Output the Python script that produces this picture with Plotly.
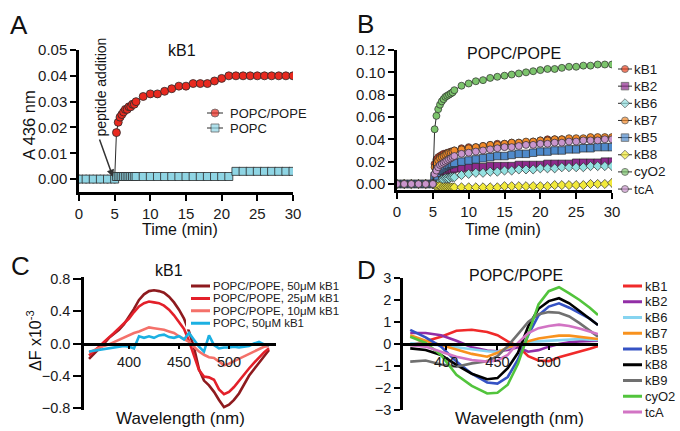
import plotly.graph_objects as go

# ------------------------------------------------------------------ data
time_min = [0, 1, 2, 3, 4, 5,
            5.25, 5.5, 5.75, 6, 6.25, 6.5, 6.75, 7, 7.25, 7.5, 7.75, 8,
            9, 10, 11, 12, 13, 14, 15, 16, 17, 18, 19, 20,
            21, 22, 23, 24, 25, 26, 27, 28, 29, 30]

# Panel A (kB1)
a_popc_pope = [0, 0, 0, 0, 0, 0,
               0.018, 0.022, 0.024, 0.025, 0.026, 0.027, 0.027, 0.028, 0.028, 0.029, 0.029, 0.030,
               0.032, 0.033, 0.033, 0.034, 0.035, 0.036, 0.036, 0.037, 0.037, 0.037, 0.038, 0.039,
               0.040, 0.040, 0.040, 0.040, 0.040, 0.040, 0.040, 0.040, 0.040, 0.040]
a_popc = [0, 0, 0, 0, 0, 0,
          0.001, 0.001, 0.001, 0.001, 0.001, 0.001, 0.001, 0.001, 0.001, 0.001, 0.001, 0.001,
          0.001, 0.001, 0.001, 0.001, 0.001, 0.001, 0.001, 0.001, 0.001, 0.001, 0.001, 0.001,
          0.001, 0.003, 0.003, 0.003, 0.003, 0.003, 0.003, 0.003, 0.003, 0.003]

# Panel B (POPC/POPE)
b_kB1 = [0, 0, 0, 0, 0, 0,
         0.018, 0.022, 0.024, 0.025, 0.026, 0.027, 0.027, 0.028, 0.028, 0.029, 0.029, 0.030,
         0.032, 0.033, 0.033, 0.034, 0.035, 0.036, 0.036, 0.037, 0.037, 0.037, 0.038, 0.039,
         0.040, 0.040, 0.040, 0.040, 0.040, 0.040, 0.040, 0.041, 0.041, 0.041]
b_kB2 = [0, 0, 0, 0, 0, 0,
         0.005, 0.007, 0.009, 0.010, 0.011, 0.011, 0.012, 0.012, 0.013, 0.013, 0.013, 0.014,
         0.014, 0.015, 0.015, 0.015, 0.016, 0.016, 0.016, 0.016, 0.017, 0.017, 0.017, 0.017,
         0.018, 0.018, 0.018, 0.018, 0.019, 0.019, 0.019, 0.019, 0.020, 0.020]
b_kB6 = [0, 0, 0, 0, 0, 0,
         0.001, 0.002, 0.003, 0.003, 0.004, 0.004, 0.005, 0.005, 0.005, 0.006, 0.006, 0.006,
         0.008, 0.009, 0.010, 0.010, 0.011, 0.011, 0.012, 0.012, 0.013, 0.013, 0.013, 0.014,
         0.014, 0.014, 0.015, 0.015, 0.015, 0.015, 0.016, 0.016, 0.016, 0.016]
b_kB7 = [0, 0, 0, 0, 0, 0,
         0.015, 0.019, 0.021, 0.023, 0.024, 0.025, 0.026, 0.027, 0.028, 0.028, 0.029, 0.030,
         0.031, 0.032, 0.033, 0.034, 0.035, 0.035, 0.036, 0.037, 0.037, 0.038, 0.038, 0.039,
         0.039, 0.040, 0.040, 0.041, 0.041, 0.041, 0.042, 0.042, 0.042, 0.042]
b_kB5 = [0, 0, 0, 0, 0, 0,
         0.007, 0.010, 0.012, 0.013, 0.014, 0.015, 0.016, 0.017, 0.017, 0.018, 0.018, 0.019,
         0.020, 0.021, 0.022, 0.023, 0.024, 0.025, 0.025, 0.026, 0.027, 0.027, 0.028, 0.029,
         0.029, 0.030, 0.030, 0.031, 0.031, 0.032, 0.032, 0.033, 0.033, 0.033]
b_kB8 = [0, 0, 0, 0, 0, 0,
         -0.001, -0.002, -0.002, -0.002, -0.003, -0.003, -0.003, -0.003, -0.003, -0.003, -0.003, -0.003,
         -0.003, -0.003, -0.003, -0.003, -0.003, -0.003, -0.002, -0.002, -0.002, -0.002, -0.002, -0.002,
         -0.002, -0.001, -0.001, -0.001, -0.001, -0.001, 0.000, 0.000, 0.000, 0.001]
b_cyO2 = [0, 0, 0, 0, 0, 0,
          0.049, 0.061, 0.067, 0.071, 0.074, 0.076, 0.078, 0.079, 0.080, 0.081, 0.082, 0.084,
          0.088, 0.090, 0.092, 0.093, 0.095, 0.096, 0.097, 0.098, 0.099, 0.100, 0.101, 0.102,
          0.103, 0.103, 0.104, 0.105, 0.105, 0.106, 0.106, 0.107, 0.107, 0.107]
b_tcA = [0, 0, 0, 0, 0, 0,
         0.009, 0.012, 0.015, 0.017, 0.018, 0.019, 0.020, 0.021, 0.022, 0.023, 0.024, 0.025,
         0.027, 0.028, 0.029, 0.030, 0.031, 0.032, 0.033, 0.033, 0.034, 0.035, 0.035, 0.036,
         0.036, 0.037, 0.037, 0.038, 0.038, 0.039, 0.039, 0.039, 0.040, 0.040]

# Panel C (kB1, fluorescence difference spectra)
wl_C = [360, 365, 370, 375, 380, 385, 390, 395, 400, 405, 410, 415, 420, 425, 430, 435, 440,
        445, 450, 455, 460, 465, 470, 475, 480, 485, 490, 495, 500, 505, 510, 515, 520, 525,
        530, 535, 540]
c_pope_50 = [-0.19, -0.13, -0.06, 0.00, 0.07, 0.12, 0.17, 0.24, 0.33, 0.43, 0.54, 0.61, 0.65,
             0.66, 0.65, 0.63, 0.58, 0.51, 0.42, 0.31, 0.15, -0.05, -0.32, -0.46, -0.52, -0.60,
             -0.70, -0.79, -0.76, -0.70, -0.62, -0.50, -0.40, -0.32, -0.24, -0.15, -0.08]
c_pope_25 = [-0.15, -0.10, -0.04, 0.02, 0.07, 0.13, 0.19, 0.25, 0.31, 0.39, 0.46, 0.50, 0.52,
             0.51, 0.50, 0.47, 0.42, 0.35, 0.27, 0.18, 0.03, -0.15, -0.33, -0.41, -0.42, -0.45,
             -0.57, -0.63, -0.60, -0.54, -0.46, -0.38, -0.31, -0.24, -0.17, -0.11, -0.06]
c_pope_10 = [-0.11, -0.08, -0.05, -0.03, -0.01, 0.02, 0.05, 0.08, 0.10, 0.13, 0.15, 0.18, 0.20,
             0.19, 0.18, 0.17, 0.15, 0.13, 0.09, 0.06, 0.02, -0.04, -0.10, -0.14, -0.17, -0.18,
             -0.22, -0.27, -0.25, -0.22, -0.19, -0.15, -0.12, -0.09, -0.06, -0.04, -0.03]
c_popc_50 = [-0.10, -0.09, -0.08, -0.07, -0.06, -0.05, -0.04, -0.03, -0.04, -0.06, 0.09, 0.07,
             0.09, 0.07, 0.10, 0.11, 0.08, 0.07, 0.09, 0.05, 0.13, 0.04, -0.04, -0.10, 0.10,
             -0.02, -0.06, -0.05, -0.05, -0.04, -0.05, -0.04, -0.03, 0.00, 0.02, -0.01, -0.02]

# Panel D (POPC/POPE, difference spectra)
wl_D = [365, 380, 395, 410, 425, 440, 450, 460, 470, 480, 490, 500, 510, 520, 530, 540, 548]
d_kB1 = [-0.05, 0.12, 0.33, 0.60, 0.65, 0.55, 0.40, 0.12, -0.10, -0.55, -0.75, -0.78, -0.60,
         -0.48, -0.35, -0.22, -0.10]
d_kB2 = [0.50, 0.50, 0.40, 0.15, -0.15, -0.30, -0.33, -0.27, -0.15, -0.35, -0.28, -0.12, 0.00,
         0.08, 0.12, 0.14, 0.15]
d_kB6 = [0.03, 0.00, -0.05, -0.15, -0.25, -0.33, -0.35, -0.20, 0.00, 0.10, 0.12, 0.15, 0.18,
         0.22, 0.23, 0.20, 0.18]
d_kB7 = [0.40, 0.15, -0.05, -0.25, -0.45, -0.58, -0.40, -0.15, -0.05, 0.12, 0.25, 0.32, 0.38,
         0.38, 0.33, 0.27, 0.23]
d_kB5 = [0.64, 0.30, -0.12, -0.80, -1.35, -1.75, -1.80, -1.50, -0.70, 0.40, 1.30, 1.70, 1.85,
         1.65, 1.40, 1.15, 0.86]
d_kB8 = [-0.20, -0.27, -0.50, -0.95, -1.35, -1.60, -1.55, -1.10, -0.40, 0.80, 1.60, 1.95, 2.08,
         1.85, 1.50, 1.15, 0.86]
d_kB9 = [-0.80, -0.75, -0.93, -1.03, -0.88, -0.78, -0.55, -0.10, 0.45, 1.00, 1.35, 1.45, 1.42,
         1.25, 0.95, 0.62, 0.33]
d_cyO2 = [0.33, 0.05, -0.50, -1.40, -1.90, -2.25, -2.22, -1.85, -0.90, 0.50, 1.80, 2.40, 2.58,
          2.30, 2.00, 1.65, 1.32]
d_tcA = [-0.05, -0.12, -0.35, -0.58, -0.73, -0.80, -0.75, -0.50, 0.05, 0.50, 0.72, 0.82, 0.88,
         0.82, 0.70, 0.58, 0.45]

a_names = ["POPC/POPE", "POPC"]
b_names = ["kB1", "kB2", "kB6", "kB7", "kB5", "kB8", "cyO2", "tcA"]
c_names = ["POPC/POPE, 50\u03bcM kB1", "POPC/POPE, 25\u03bcM kB1",
           "POPC/POPE, 10\u03bcM kB1", "POPC, 50\u03bcM kB1"]
d_names = ["kB1", "kB2", "kB6", "kB7", "kB5", "kB8", "kB9", "cyO2", "tcA"]

a_ticks_x = [0, 5, 10, 15, 20, 25, 30]
a_ticks_y = [0.00, 0.01, 0.02, 0.03, 0.04, 0.05]
b_ticks_y = [0.00, 0.02, 0.04, 0.06, 0.08, 0.10, 0.12]
c_ticks_x = [400, 450, 500, 550]
c_ticks_y = [-0.8, -0.4, 0.0, 0.4, 0.8]
d_ticks_y = [-3, -2, -1, 0, 1, 2, 3]

# ------------------------------------------------------------------ style
W, H = 680, 431
FONT = "Liberation Sans, Arial, Helvetica, sans-serif"
EDGE = "#2a2a2a"

a_series = [a_popc_pope, a_popc]
a_colors = ["#e8291f", "#8fd5e4"]
a_symbols = ["circle", "square"]

b_series = [b_kB1, b_kB2, b_kB6, b_kB7, b_kB5, b_kB8, b_cyO2, b_tcA]
b_colors = ["#ee4420", "#8e2a8c", "#93e0e0", "#f28a2a", "#4f8acb", "#f2ea3a", "#7cc46c", "#c995cc"]
b_symbols = ["circle", "square", "diamond", "circle", "square", "diamond", "circle", "circle"]
b_sizes = [7, 7.5, 7, 7, 7.5, 7, 7, 7]

c_series = [c_pope_50, c_pope_25, c_pope_10, c_popc_50]
c_colors = ["#8e1a1e", "#e3202a", "#f4716a", "#1cb0e2"]

d_series = [d_kB1, d_kB2, d_kB6, d_kB7, d_kB5, d_kB8, d_kB9, d_cyO2, d_tcA]
d_colors = ["#f02a2a", "#922ea6", "#86d4f0", "#f8921e", "#3552c4", "#000000", "#707070",
            "#52c43c", "#d274c4"]


def fx(px):
    return px / W


def fy(py):
    return 1 - py / H


fig = go.Figure()

# Panel A traces
for name, vals, col, sym in zip(a_names, a_series, a_colors, a_symbols):
    fig.add_trace(go.Scatter(
        x=time_min, y=vals, name=name, mode="lines+markers", xaxis="x", yaxis="y",
        line=dict(color=EDGE, width=1),
        marker=dict(symbol=sym, size=8, color=col, line=dict(color=EDGE, width=0.8)),
        showlegend=False))

# Panel B traces
for name, vals, col, sym, sz in zip(b_names, b_series, b_colors, b_symbols, b_sizes):
    fig.add_trace(go.Scatter(
        x=time_min, y=vals, name=name, mode="lines+markers", xaxis="x2", yaxis="y2",
        line=dict(color=EDGE, width=1),
        marker=dict(symbol=sym, size=sz, color=col, line=dict(color=EDGE, width=0.7)),
        showlegend=False))

# Panel C traces
for name, vals, col in zip(c_names, c_series, c_colors):
    fig.add_trace(go.Scatter(
        x=wl_C, y=vals, name=name, mode="lines", xaxis="x3", yaxis="y3",
        line=dict(color=col, width=2.6), showlegend=False))

# Panel D traces
for name, vals, col in zip(d_names, d_series, d_colors):
    fig.add_trace(go.Scatter(
        x=wl_D, y=vals, name=name, mode="lines", xaxis="x4", yaxis="y4",
        line=dict(color=col, width=2.6), showlegend=False))

annotations = []


def add_legend(ax_id, names, colors, x_dom, c0, sp, line_x, text_x, fsize,
               symbols=None, sizes=None, line_w=2.6):
    n = len(names)
    fig.update_layout(**{
        f"xaxis{ax_id}": dict(domain=[fx(x_dom[0]), fx(x_dom[1])],
                              range=[0, x_dom[1] - x_dom[0]], visible=False,
                              anchor=f"y{ax_id}", fixedrange=True, automargin=False),
        f"yaxis{ax_id}": dict(domain=[fy(c0 + (n - 0.5) * sp), fy(c0 - sp / 2)],
                              range=[n - 0.5, -0.5], visible=False,
                              anchor=f"x{ax_id}", fixedrange=True, automargin=False),
    })
    for i, (nm, col) in enumerate(zip(names, colors)):
        if symbols is None:
            fig.add_trace(go.Scatter(
                x=[line_x[0], line_x[1]], y=[i, i], mode="lines",
                xaxis=f"x{ax_id}", yaxis=f"y{ax_id}",
                line=dict(color=col, width=line_w), showlegend=False, hoverinfo="skip"))
        else:
            xm = (line_x[0] + line_x[1]) / 2
            sz = sizes[i] if sizes else 8
            fig.add_trace(go.Scatter(
                x=[line_x[0], xm, line_x[1]], y=[i, i, i], mode="lines+markers",
                xaxis=f"x{ax_id}", yaxis=f"y{ax_id}",
                line=dict(color=EDGE, width=1),
                marker=dict(symbol=symbols[i], size=[0, sz, 0], color=col,
                            line=dict(color=EDGE, width=[0, 0.8, 0])),
                showlegend=False, hoverinfo="skip"))
        annotations.append(dict(
            text=nm, x=text_x, y=i, xref=f"x{ax_id}", yref=f"y{ax_id}",
            xanchor="left", yanchor="middle", showarrow=False,
            font=dict(size=fsize, color="#1a1a1a", family=FONT)))


add_legend(5, a_names, a_colors, (204, 330), 113, 15, (3, 19), 24, 13,
           symbols=a_symbols, sizes=[8, 8])
add_legend(6, b_names, b_colors, (615, 680), 69, 17.15, (3, 17), 16.5, 13.5,
           symbols=b_symbols, sizes=b_sizes)
add_legend(7, c_names, c_colors, (186, 345), 286, 12.4, (5, 24), 25, 11.5, line_w=3)
add_legend(8, d_names, d_colors, (618, 680), 286, 15.75, (5, 24), 25, 13, line_w=3)

axis_common = dict(showgrid=False, zeroline=False, showline=True, linecolor="black",
                   linewidth=2.5, ticks="outside", tickcolor="black", tickwidth=2,
                   automargin=False, fixedrange=True)
font_ab = dict(size=15, color="#1a1a1a", family=FONT)
font_cd = dict(size=14.5, color="#1a1a1a", family=FONT)

fig.update_layout(
    xaxis=dict(domain=[fx(79), fx(293)], range=[0, 30], tickvals=a_ticks_x, ticklen=6,
               anchor="y", tickfont=font_ab, **axis_common),
    yaxis=dict(domain=[fy(192), fy(50)], range=[-0.005, 0.05], tickvals=a_ticks_y,
               tickformat=".2f", ticklen=6, anchor="x", tickfont=font_ab, **axis_common),
    xaxis2=dict(domain=[fx(397), fx(612)], range=[0, 30], tickvals=a_ticks_x, ticklen=6,
                anchor="y2", tickfont=font_ab, **axis_common),
    yaxis2=dict(domain=[fy(190), fy(50)], range=[-0.0054, 0.12], tickvals=b_ticks_y,
                tickformat=".2f", ticklen=6, anchor="x2", tickfont=font_ab, **axis_common),
    xaxis3=dict(domain=[fx(82), fx(276)], range=[353, 547], tickvals=c_ticks_x, ticklen=4,
                anchor="free", position=fy(343.5), tickfont=font_cd, **axis_common),
    yaxis3=dict(domain=[fy(410), fy(277)], range=[-0.825, 0.825], tickvals=c_ticks_y,
                tickformat=".1f", ticklen=8, anchor="free", position=fx(82), tickfont=font_cd,
                **axis_common),
    xaxis4=dict(domain=[fx(401), fx(598)], range=[356, 548], tickvals=c_ticks_x, ticklen=4,
                anchor="free", position=fy(344), tickfont=font_cd, **axis_common),
    yaxis4=dict(domain=[fy(410), fy(278)], range=[-3, 3], tickvals=d_ticks_y, ticklen=6,
                anchor="free", position=fx(401), tickfont=font_cd, **axis_common),
)


def label(text, px, py, size, angle=0, anchor="center"):
    annotations.append(dict(text=text, x=fx(px), y=fy(py), xref="paper", yref="paper",
                            xanchor=anchor, yanchor="middle", showarrow=False,
                            textangle=angle, font=dict(size=size, color="#111111", family=FONT)))


# panel letters
label("A", 19, 25, 26)
label("B", 365, 24, 26)
label("C", 20, 266, 26)
label("D", 366, 270, 26)
# panel titles
label("kB1", 182, 50, 16)
label("POPC/POPE", 514, 53, 16)
label("kB1", 169, 270, 16)
label("POPC/POPE", 516, 275, 16)
# axis titles
label("Time (min)", 180, 229, 16)
label("Time (min)", 503, 229, 16)
label("Wavelength (nm)", 180, 418, 17)
label("Wavelength (nm)", 519, 418, 17)
label("A 436 nm", 29, 125, 16.5, angle=-90)
label("\u0394F x10<sup>-3</sup>", 34, 341, 16, angle=-90)
label("peptide addition", 100.5, 87, 14, angle=-90)

# arrow marking the peptide addition
annotations.append(dict(text="", x=fx(113), y=fy(177), xref="paper", yref="paper",
                        showarrow=True, ax=-14, ay=-39, arrowhead=2, arrowsize=1,
                        arrowwidth=1.5, arrowcolor="#333333", standoff=0))

fig.update_layout(
    template="none",
    width=W, height=H, margin=dict(l=0, r=0, t=0, b=0, autoexpand=False),
    paper_bgcolor="white", plot_bgcolor="white",
    font=dict(family=FONT, color="#111111"),
    showlegend=False, annotations=annotations,
)

fig.write_html(
    "out.html",
    config={"displayModeBar": False},
    post_script="document.body.style.margin='0px';document.body.style.overflow='hidden';",
)
